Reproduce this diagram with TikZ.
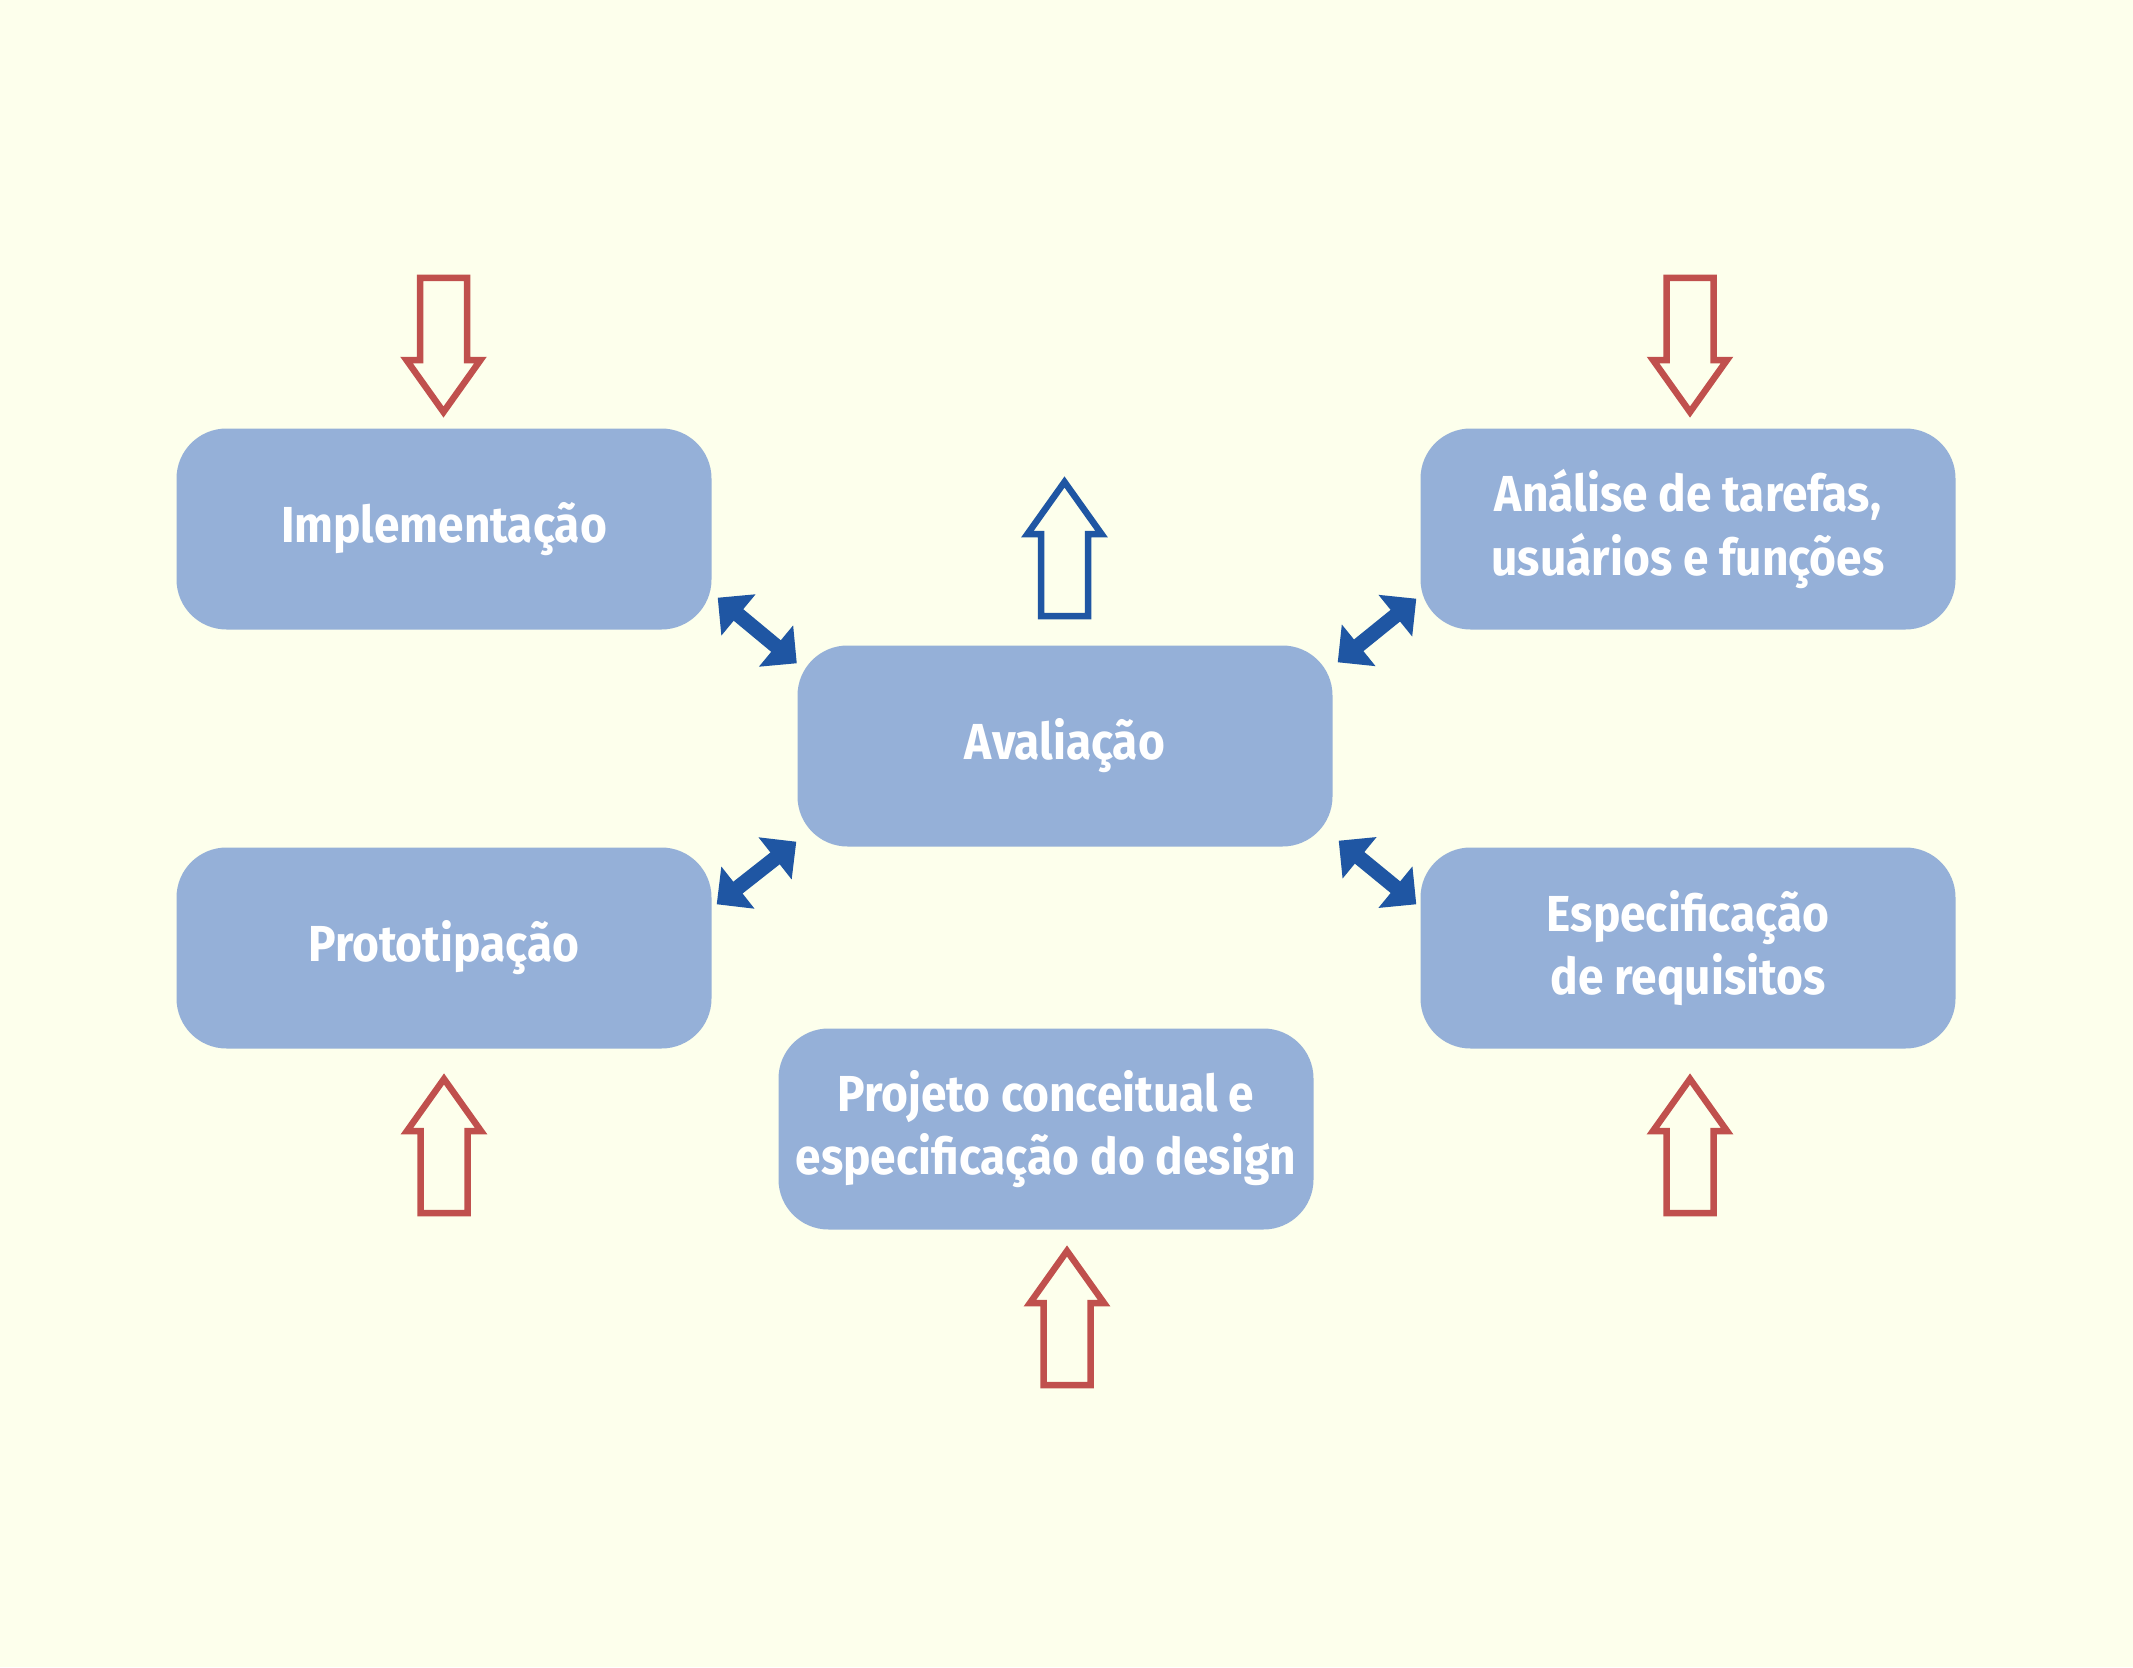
\documentclass[tikz,border=0pt]{standalone}
\usepackage{fontspec}
\newfontfamily\boxfont{Fira Sans}[FakeStretch=0.91]
\usetikzlibrary{arrows.meta}

\begin{document}
\begin{tikzpicture}[
    box/.style={fill=box-blue, rounded corners=0.5cm, minimum width=5.35cm, minimum height=2.01cm,
      inner sep=0pt, align=center, text=white, font=\boxfont\bfseries\fontsize{14.4}{18}\selectfont},
    twoway/.style={draw=arr-blue, line width=0.15cm, {Triangle[length=0.27cm,width=0.52cm]}-{Triangle[length=0.27cm,width=0.52cm]}},
    open/.style={line width=0.065cm, line join=miter, fill=bg}]
    \definecolor{bg}{HTML}{FDFFEC}
    \definecolor{box-blue}{HTML}{95B0D8}
    \definecolor{arr-blue}{HTML}{1F56A3}
    \definecolor{arr-red}{HTML}{C0504D}
    % #1 colour, #2 x, #3 y of tail, #4 direction (1 up, -1 down)
    \def\openarrow#1#2#3#4{\draw[open, draw=#1] ({#2-0.235},#3) -- ({#2-0.235},{#3+(#4)*0.82}) -- ({#2-0.37},{#3+(#4)*0.82})
      -- (#2,{#3+(#4)*1.34}) -- ({#2+0.37},{#3+(#4)*0.82}) -- ({#2+0.235},{#3+(#4)*0.82}) -- ({#2+0.235},#3) -- cycle;}
    \fill[bg] (0,0) rectangle (21.33,16.67);
    \useasboundingbox (0,0) rectangle (21.33,16.67);

    \node[box] (impl) at (4.44,11.38) {Implementação};
    \node[box] (anal) at (16.88,11.38) {Análise de tarefas,\\usuários e funções};
    \node[box] (eval) at (10.65,9.21) {Avaliação};
    \node[box] (proto) at (4.44,7.19) {Prototipação};
    \node[box] (espec) at (16.88,7.19) {Especificação\\de requisitos};
    \node[box] (proj) at (10.46,5.38) {Projeto conceitual e\\especificação do design};

    \draw[twoway] ([shift={(0.055,0.325)}]impl.south east) -- ([shift={(0,-0.185)}]eval.north west);
    \draw[twoway] ([shift={(-0.035,0.315)}]anal.south west) -- ([shift={(0.045,-0.175)}]eval.north east);
    \draw[twoway] ([shift={(0.045,-0.575)}]proto.north east) -- ([shift={(-0.005,0.055)}]eval.south west);
    \draw[twoway] ([shift={(-0.035,-0.575)}]espec.north west) -- ([shift={(0.055,0.065)}]eval.south east);

    \openarrow{arr-red}{4.435}{13.89}{-1}
    \openarrow{arr-red}{16.90}{13.89}{-1}
    \openarrow{arr-blue}{10.645}{10.51}{1}
    \openarrow{arr-red}{4.44}{4.54}{1}
    \openarrow{arr-red}{16.90}{4.54}{1}
    \openarrow{arr-red}{10.67}{2.82}{1}
  \end{tikzpicture}
\end{document}
